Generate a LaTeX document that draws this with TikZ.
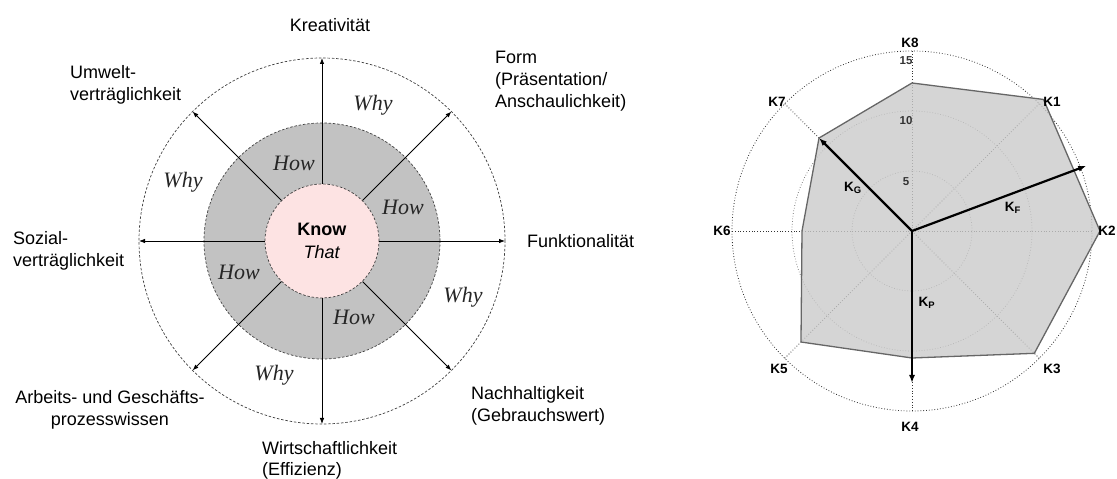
\documentclass[tikz,border=0pt]{standalone}
\usepackage{fontspec}
\setmainfont{Liberation Sans}
\newfontfamily\whyfont{Liberation Serif}
\usetikzlibrary{arrows.meta}
\definecolor{ringgray}{HTML}{C2C2C2}
\definecolor{knowpink}{HTML}{FDE3E3}
\definecolor{areagray}{HTML}{CACACA}
\begin{document}
\begin{tikzpicture}[x=1pt,y=1pt,
  lbl/.style={font=\fontsize{18}{22}\selectfont,inner sep=0pt},
  hw/.style={font=\fontsize{22}{24}\whyfont\itshape,inner sep=0pt,text=black!85},
  ray/.style={draw,line width=0.8pt,-{Latex[length=6pt,width=4.5pt]}},
  ring/.style={draw=black!75,dash pattern=on 2.5pt off 1.8pt,line width=0.7pt},
  kl/.style={font=\fontsize{13.5}{14}\selectfont\bfseries,inner sep=0pt},
  nl/.style={font=\fontsize{11.5}{12}\selectfont\bfseries,inner sep=0pt,text=black!80},
  vec/.style={draw,line width=2.2pt,-{Latex[length=8pt,width=6pt]}}]
\useasboundingbox (0,0) rectangle (1117,479);
\begin{scope}[shift={(322,238)}]
\path[ring] (0,0) circle[radius=183pt];
\path[ring,fill=ringgray] (0,0) circle[radius=118pt];
\node[ring,circle,fill=knowpink,minimum size=114pt,inner sep=0pt,align=center,font=\fontsize{18}{23}\selectfont] (know) at (0,0) {\textbf{Know}\\\textit{That}};
\foreach \a in {0,45,...,315} {
  \coordinate (t\a) at (\a:183pt);
  \path[ray] (know.\a) -- (t\a);
}
\end{scope}
\node[lbl] (kr) at (330,454) {Kreativität};
\node[lbl,anchor=north west,align=left] (fo) at (495,428.5) {Form\\(Präsentation/\\Anschaulichkeit)};
\node[lbl,anchor=west] (fu) at (527,238) {Funktionalität};
\node[lbl,anchor=north west,align=left] (na) at (471,92.5) {Nachhaltigkeit\\(Gebrauchswert)};
\node[lbl,anchor=north west,align=left,font=\fontsize{18}{21}\selectfont] (wi) at (262,38) {Wirtschaftlichkeit\\(Effizienz)};
\node[lbl,anchor=north,align=center] (ar) at (110,88.5) {Arbeits- und Geschäfts-\\prozesswissen};
\node[lbl,anchor=north west,align=left] (so) at (13,247.5) {Sozial-\\verträglichkeit};
\node[lbl,anchor=north west,align=left] (um) at (70,413.5) {Umwelt-\\verträglichkeit};
\node[hw] (w1) at (373,374) {Why};
\node[hw] (w2) at (183,297) {Why};
\node[hw] (w3) at (463,182) {Why};
\node[hw] (w4) at (274,104) {Why};
\node[hw] (h1) at (294,316) {How};
\node[hw] (h2) at (403,272) {How};
\node[hw] (h3) at (239,207) {How};
\node[hw] (h4) at (354,162) {How};
\begin{scope}[shift={(912,248)}]
\path[draw=black!60,dotted,line width=0.7pt] (0,0) circle[radius=60pt];
\path[draw=black!60,dotted,line width=0.7pt] (0,0) circle[radius=120pt];
\path[draw=black!80,dotted,line width=0.8pt] (0,0) circle[radius=180pt];
\foreach \a in {0,45,...,315}
  \path[draw=black!80,dotted,line width=0.8pt] (0,0) -- (\a:180pt);
\coordinate (c) at (0,0);
\coordinate (v1) at (45:186pt);
\coordinate (v2) at (0:188pt);
\coordinate (v3) at (-45:173pt);
\coordinate (v4) at (-90:127pt);
\coordinate (v5) at (-135:157pt);
\coordinate (v6) at (180:110pt);
\coordinate (v7) at (135:131.5pt);
\coordinate (v8) at (90:148pt);
\path[fill=areagray,fill opacity=0.8] (v1) -- (v2) -- (v3) -- (v4) -- (v5) -- (v6) -- (v7) -- (v8) -- cycle;
\path[draw=black!60,line width=1.3pt,line join=round] (v1) -- (v2) -- (v3) -- (v4) -- (v5) -- (v6) -- (v7) -- (v8) -- cycle;
\node[nl] (n15) at (-6,170) {15};
\node[nl] (n10) at (-6,110) {10};
\node[nl] (n5) at (-6,49) {5};
\coordinate (f) at (20.5:186pt);
\coordinate (p) at (-90:152pt);
\path[vec] (c) -- (v7);
\path[vec] (c) -- (f);
\path[vec] (c) -- (p);
\node[kl] (kg) at (-59,43) {K\textsubscript{G}};
\node[kl] (kf) at (101,23) {K\textsubscript{F}};
\node[kl] (kp) at (15,-72) {K\textsubscript{P}};
\node[kl] (k8) at (-2,188) {K8};
\node[kl] (k1) at (140,129) {K1};
\node[kl] (k2) at (195,0) {K2};
\node[kl] (k3) at (140,-138) {K3};
\node[kl] (k4) at (-2,-196) {K4};
\node[kl] (k5) at (-133,-138) {K5};
\node[kl] (k6) at (-190,0) {K6};
\node[kl] (k7) at (-135,129) {K7};
\end{scope}
\end{tikzpicture}
\end{document}
